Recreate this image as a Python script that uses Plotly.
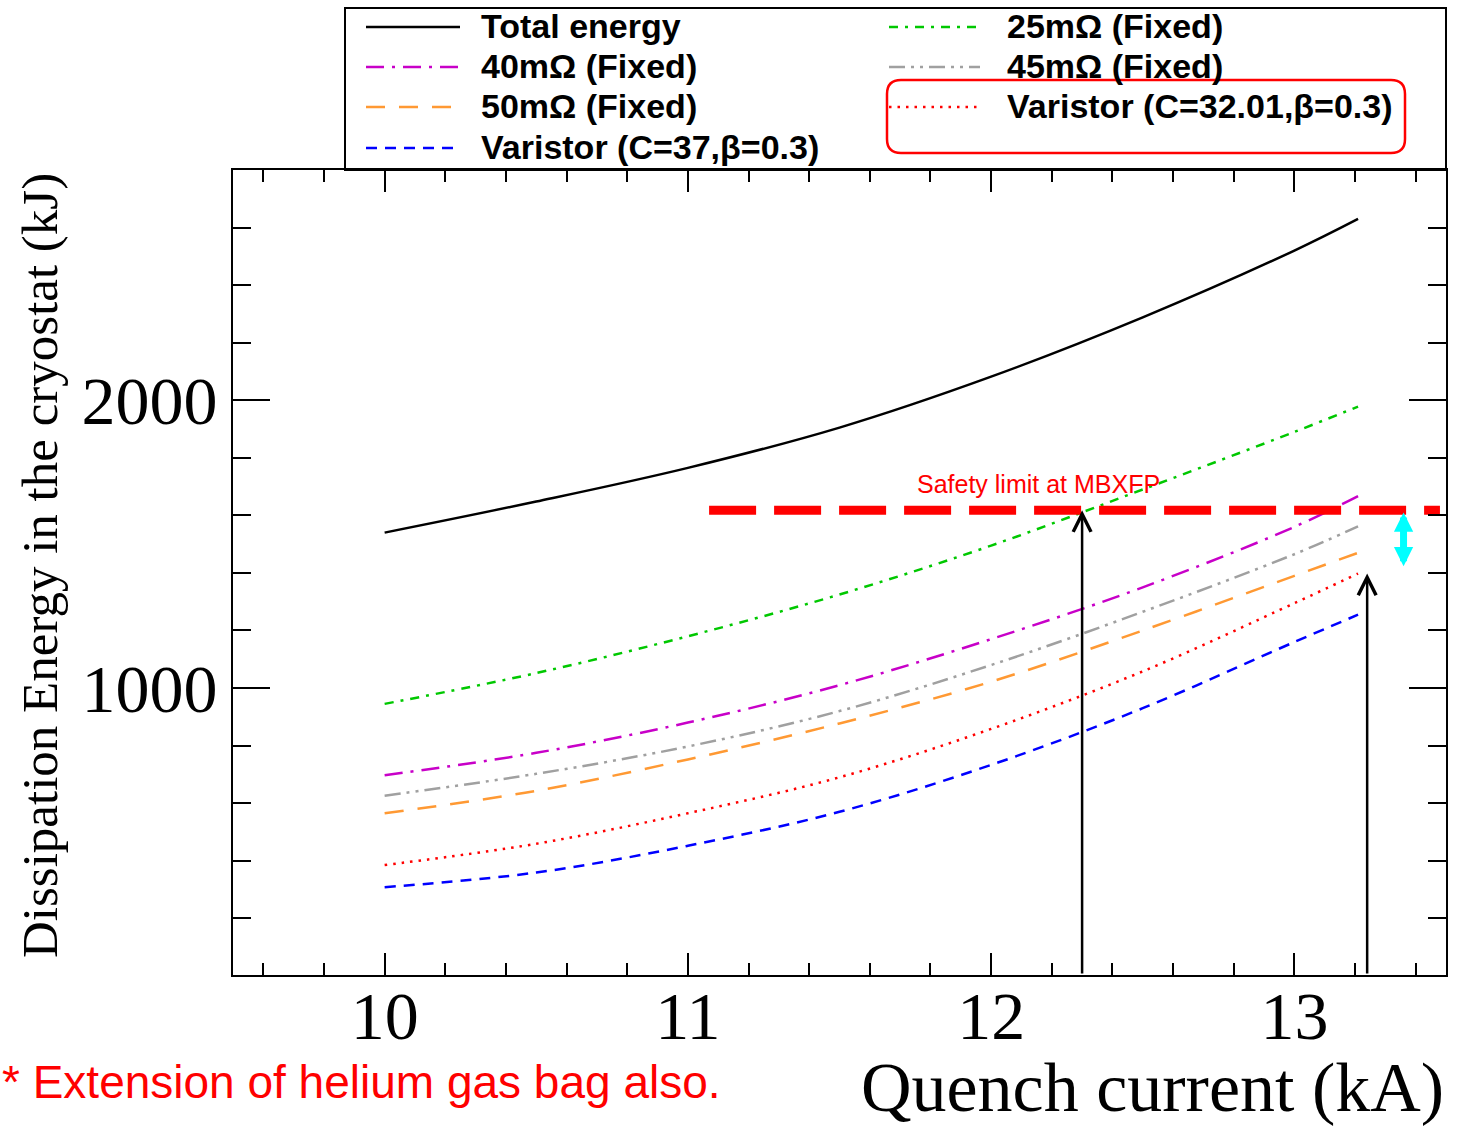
import plotly.graph_objects as go

# ---------------- data ----------------
current = [10.0, 10.5, 11.0, 11.5, 12.0, 12.5, 13.0, 13.21]
total_energy = [1540, 1648, 1765, 1905, 2082, 2288, 2520, 2630]
fixed_25 = [945, 1052, 1180, 1325, 1495, 1690, 1890, 1978]
fixed_40 = [697, 775, 880, 1010, 1170, 1350, 1560, 1667]
fixed_45 = [626, 702, 797, 920, 1080, 1265, 1465, 1562]
fixed_50 = [565, 643, 752, 877, 1022, 1200, 1390, 1470]
varistor_32 = [385, 459, 565, 690, 858, 1058, 1295, 1398]
varistor_37 = [308, 359, 452, 570, 733, 930, 1160, 1255]

series_names = ["Total energy", "25m\u03a9 (Fixed)", "40m\u03a9 (Fixed)", "45m\u03a9 (Fixed)",
                "50m\u03a9 (Fixed)", "Varistor (C=32.01,\u03b2=0.3)", "Varistor (C=37,\u03b2=0.3)"]
series_values = [total_energy, fixed_25, fixed_40, fixed_45, fixed_50, varistor_32, varistor_37]

safety_limit = 1618
safety_x = [11.07, 13.48]
safety_label = "Safety limit at MBXFP"
arrow_x = [12.30, 13.24]
arrow_top = [1618, 1398]
arrow_bottom = 3
margin_arrow_x = 13.36
margin_arrow_y = [1610, 1418]

x_ticks = [10, 11, 12, 13]
y_ticks = [1000, 2000]
x_title = "Quench current (kA)"
y_title = "Dissipation Energy in the cryostat (kJ)"
note_text = "* Extension of helium gas bag also."

# ---------------- styles ----------------
colors = ["#000000", "#00c800", "#c800c8", "#a0a0a0", "#ff9933", "#ff0000", "#0000ff"]
dashes = ["solid", "9px,7px,3px,7px", "18px,8px,3px,8px", "16px,6px,3px,6px,3px,6px",
          "19px,14px", "2.5px,6px", "11px,8px"]

W, H = 1463, 1127
L, R, T, B = 233, 17, 170, 152
PW, PH = W - L - R, H - T - B


def px(xp):
    return (xp - L) / PW


def py(yp):
    return (H - B - yp) / PH


fig = go.Figure()

for name, vals, c, d in zip(series_names, series_values, colors, dashes):
    fig.add_trace(go.Scatter(x=current, y=vals, mode="lines", name=name,
                             line=dict(color=c, width=2.5, dash=d, shape="spline"),
                             showlegend=False))

fig.add_trace(go.Scatter(x=safety_x, y=[safety_limit, safety_limit], mode="lines",
                         line=dict(color="#ff0000", width=9, dash="47px,18px"),
                         showlegend=False, hoverinfo="skip"))

annotations = []
# black arrows
for ax_, top in zip(arrow_x, arrow_top):
    annotations.append(dict(x=ax_, y=top, ax=ax_, ay=arrow_bottom, xref="x", yref="y",
                            axref="x", ayref="y", text="", showarrow=True,
                            arrowhead=5, arrowsize=1.4, arrowwidth=2.5, arrowcolor="black",
                            standoff=0))
# cyan double arrow
annotations.append(dict(x=margin_arrow_x, y=margin_arrow_y[0], ax=margin_arrow_x,
                        ay=margin_arrow_y[1], xref="x", yref="y", axref="x", ayref="y",
                        text="", showarrow=True, arrowhead=2, startarrowhead=2,
                        arrowside="end+start", arrowsize=0.55, startarrowsize=0.55,
                        arrowwidth=7, arrowcolor="#00ffff", standoff=0, startstandoff=0))
# safety label
annotations.append(dict(x=px(1038), y=py(484), xref="paper", yref="paper",
                        text=safety_label, showarrow=False,
                        font=dict(family="Liberation Sans", size=25, color="#ff0000"),
                        xanchor="center", yanchor="middle"))
# axis titles
annotations.append(dict(x=px(40), y=py(566), xref="paper", yref="paper", text=y_title,
                        textangle=-90, showarrow=False,
                        font=dict(family="Liberation Serif", size=51, color="black"),
                        xanchor="center", yanchor="middle"))
annotations.append(dict(x=px(1446), y=py(1087), xref="paper", yref="paper", text=x_title,
                        showarrow=False,
                        font=dict(family="Liberation Serif", size=70, color="black"),
                        xanchor="right", yanchor="middle"))
annotations.append(dict(x=px(0), y=py(1082), xref="paper", yref="paper", text=note_text,
                        showarrow=False,
                        font=dict(family="Liberation Sans", size=46, color="#ff0000"),
                        xanchor="left", yanchor="middle"))

shapes = []
# legend box
shapes.append(dict(type="rect", xref="paper", yref="paper", x0=px(345), x1=px(1446),
                   y0=py(170), y1=py(8), line=dict(color="black", width=2),
                   fillcolor="white", layer="below"))
legend_pos = [(0, 0), (1, 0), (0, 1), (1, 1), (0, 2), (1, 2), (0, 3)]
col_line = [(366, 460), (889, 980)]
col_text = [479, 1005]
row_y = [27, 67, 107, 148]
for (col, row), name, c, d in zip(legend_pos, series_names, colors, dashes):
    x0, x1 = col_line[col]
    shapes.append(dict(type="line", xref="paper", yref="paper", x0=px(x0), x1=px(x1),
                       y0=py(row_y[row]), y1=py(row_y[row]),
                       line=dict(color=c, width=2.5, dash=d)))
    annotations.append(dict(x=px(col_text[col]), y=py(row_y[row] - 1), xref="paper", yref="paper",
                            text="<b>" + name + "</b>", showarrow=False, xanchor="left",
                            yanchor="middle",
                            font=dict(family="Liberation Sans", size=34, color="black")))

# red rounded highlight box
bx0, bx1, by0, by1 = px(887), px(1405), py(80), py(153)
rx, ry = 14 / PW, 14 / PH
path = (f"M{bx0 + rx},{by0} L{bx1 - rx},{by0} Q{bx1},{by0} {bx1},{by0 - ry} "
        f"L{bx1},{by1 + ry} Q{bx1},{by1} {bx1 - rx},{by1} L{bx0 + rx},{by1} "
        f"Q{bx0},{by1} {bx0},{by1 + ry} L{bx0},{by0 - ry} Q{bx0},{by0} {bx0 + rx},{by0} Z")
shapes.append(dict(type="path", xref="paper", yref="paper", path=path,
                   line=dict(color="#ff0000", width=2.5)))

fig.update_layout(
    width=W, height=H,
    margin=dict(l=L, r=R, t=T, b=B, pad=0),
    paper_bgcolor="white", plot_bgcolor="white",
    annotations=annotations, shapes=shapes,
    showlegend=False,
)

fig.update_xaxes(range=[9.5, 13.5], tickmode="array", tickvals=x_ticks,
                 ticktext=[str(v) for v in x_ticks], ticklabelstandoff=-20,
                 showgrid=False, zeroline=False, showline=True, linecolor="black", linewidth=2,
                 mirror="allticks", ticks="inside", ticklen=22, tickwidth=2, tickcolor="black",
                 minor=dict(dtick=0.2, tick0=0, ticks="inside", ticklen=12, tickwidth=2,
                            tickcolor="black", showgrid=False),
                 tickfont=dict(family="Liberation Serif", size=68, color="black"))
fig.update_yaxes(range=[3, 2800], tickmode="array", tickvals=y_ticks,
                 ticktext=[str(v) for v in y_ticks],
                 showgrid=False, zeroline=False, showline=True, linecolor="black", linewidth=2,
                 mirror="allticks", ticks="inside", ticklen=37, tickwidth=2, tickcolor="black",
                 minor=dict(dtick=200, tick0=0, ticks="inside", ticklen=18, tickwidth=2,
                            tickcolor="black", showgrid=False),
                 tickfont=dict(family="Liberation Serif", size=68, color="black"))

fig.write_html("out.html")
